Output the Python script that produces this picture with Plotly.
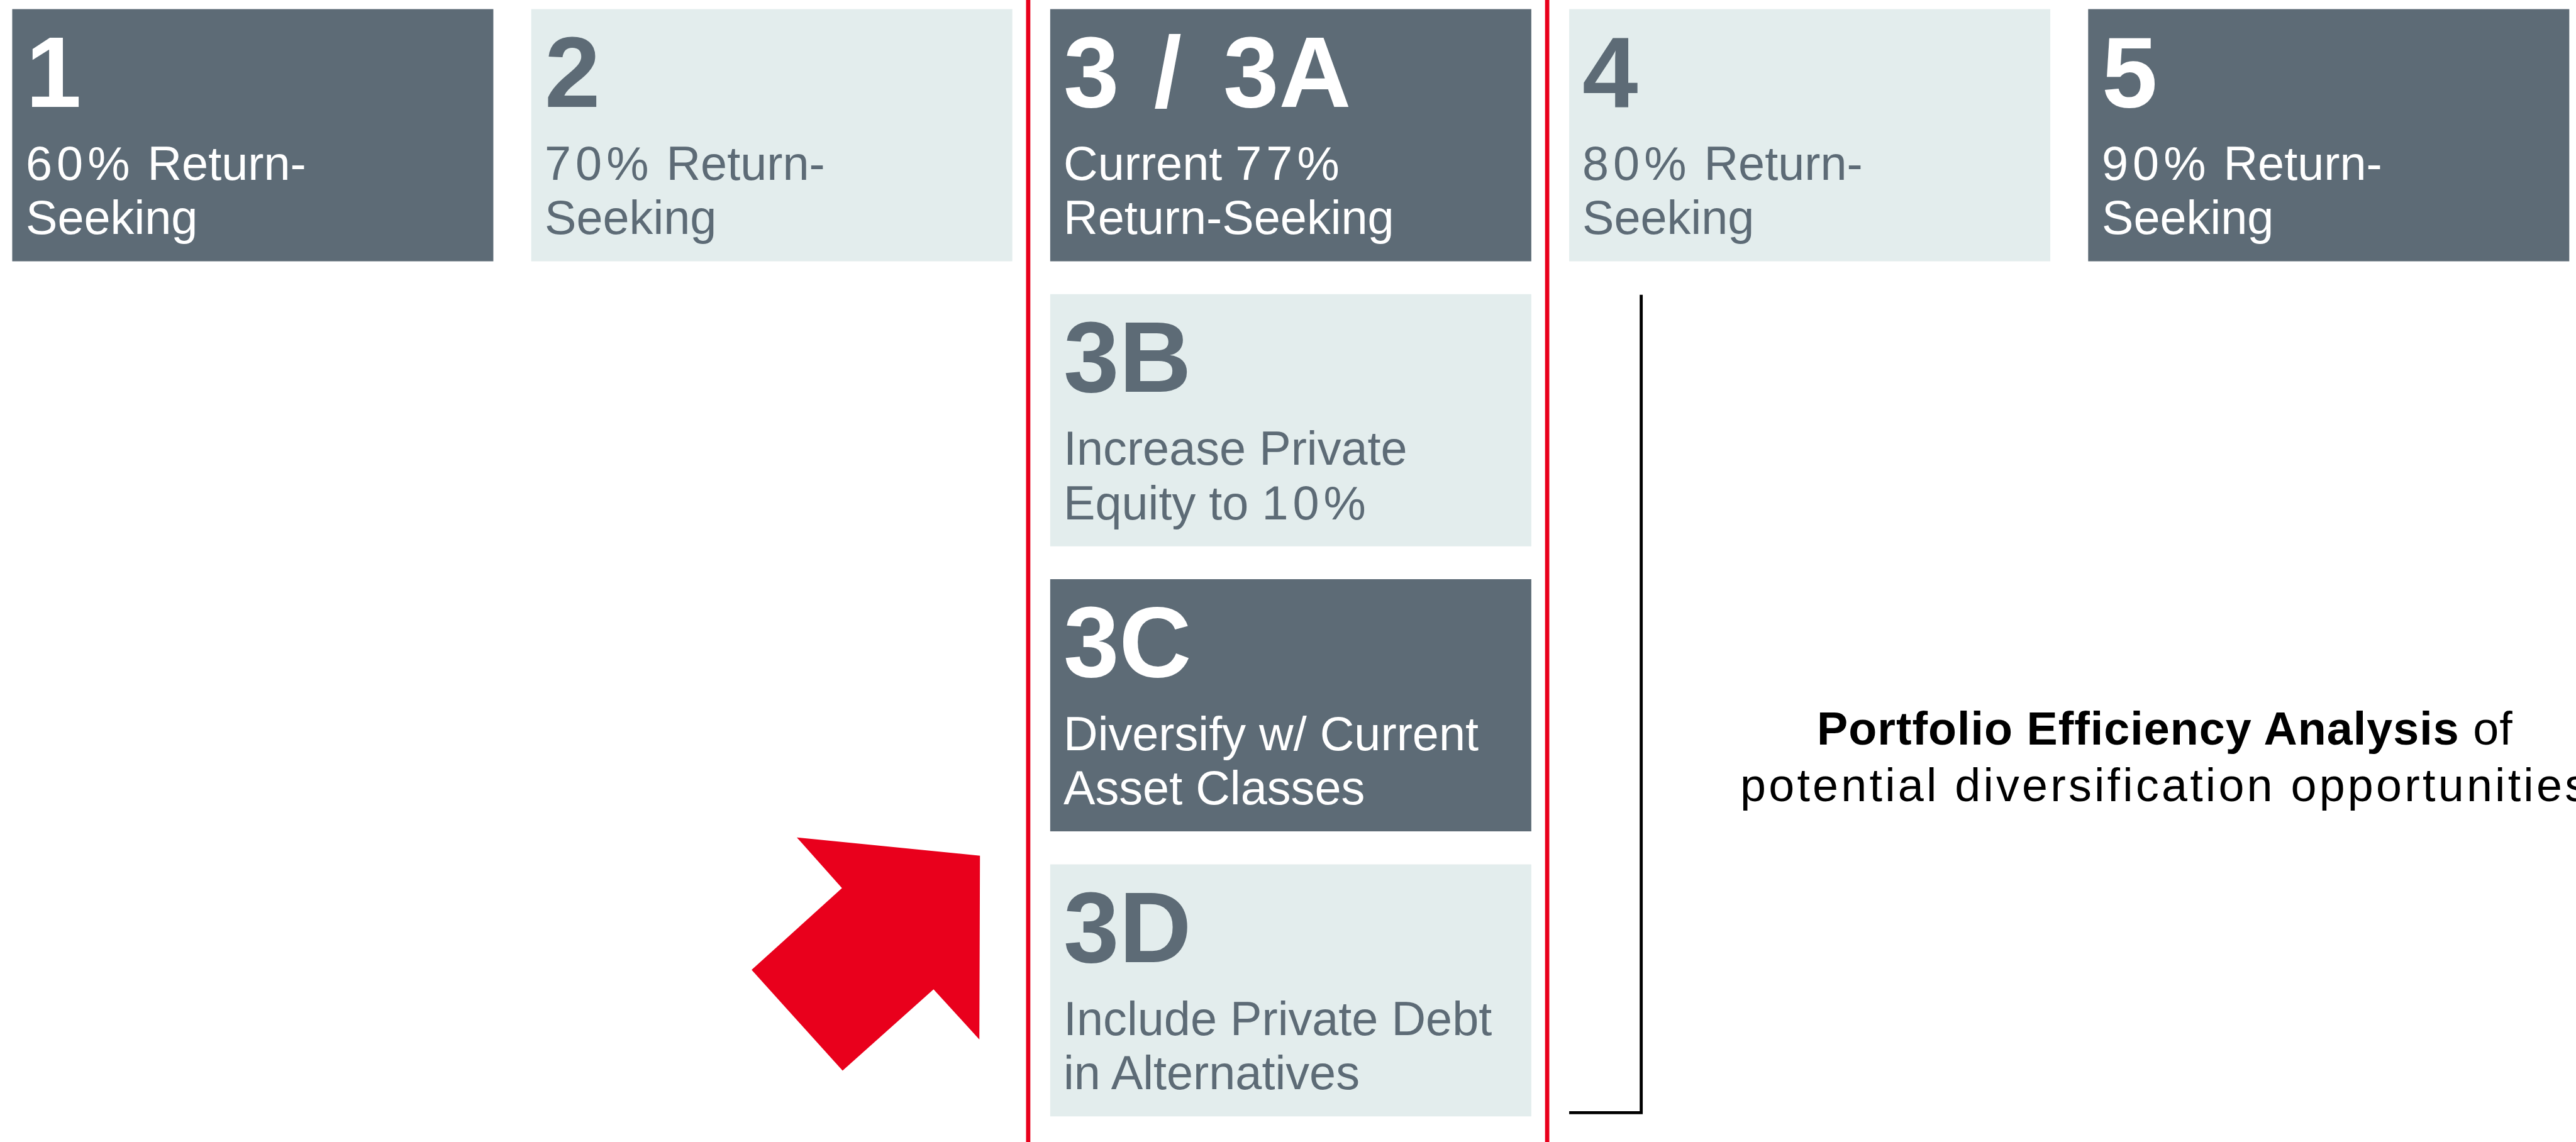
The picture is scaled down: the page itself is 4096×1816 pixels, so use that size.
import re
import plotly.graph_objects as go

# ---------------- data ----------------
top_labels = ["1", "2", "3 / 3A", "4", "5"]
top_text = [
    ["60% Return-", "Seeking"],
    ["70% Return-", "Seeking"],
    ["Current 77%", "Return-Seeking"],
    ["80% Return-", "Seeking"],
    ["90% Return-", "Seeking"],
]
top_dark = [True, False, True, False, True]

sub_labels = ["3B", "3C", "3D"]
sub_text = [
    ["Increase Private", "Equity to 10%"],
    ["Diversify w/ Current", "Asset Classes"],
    ["Include Private Debt", "in Alternatives"],
]
sub_dark = [False, True, False]
sub_column = 2  # column index holding the sub-scenarios

note_bold = "Portfolio Efficiency Analysis"
note_rest = " of"
note_line2 = "potential diversification opportunities"

# ---------------- layout constants (reference pixel space) ----------------
REF_W, REF_H = 4219, 1871
S = 0.97
W, H = 4096, 1816

DARK = "#5d6b76"
LIGHT = "#e3eded"
RED = "#e9001c"
FONT = "Liberation Sans, Arial, Helvetica, sans-serif"

COL_X0, COL_PITCH, BOX_W = 20, 850, 788
ROW_Y0, ROW_PITCH, BOX_H = 15, 467, 413
TXT_DX = 21
BIG_FS, SUB_FS, NOTE_FS = 164, 78, 76
BIG_BASE, L1_BASE, L2_BASE = 160, 280, 369
ASC = 0.3465  # baseline offset from text-box centre, in em

shapes, annos = [], []


def fmt_big(label):
    # slightly looser spacing around the slash, as in the original typesetting
    return "<b>" + label.replace(" / ", '<span style="letter-spacing:11px"> / </span>') + "</b>"


def fmt_sub(line):
    # percentages are set a little looser in the original
    return re.sub(r"(\d+%)", r'<span style="letter-spacing:7px">\1</span>', line)


def add_box(col, row, label, lines, dark):
    x0 = COL_X0 + col * COL_PITCH
    y0 = ROW_Y0 + row * ROW_PITCH
    shapes.append(dict(type="rect", xref="x", yref="y", x0=x0, x1=x0 + BOX_W,
                       y0=y0, y1=y0 + BOX_H, fillcolor=DARK if dark else LIGHT,
                       line=dict(width=0), layer="below"))
    tc = "white" if dark else DARK
    annos.append(dict(x=x0 + TXT_DX, y=y0 + BIG_BASE - ASC * BIG_FS, text=fmt_big(label),
                      xref="x", yref="y", xanchor="left", yanchor="middle", showarrow=False,
                      borderpad=0, font=dict(family=FONT, size=BIG_FS * S, color=tc)))
    for ln, base in zip(lines, [L1_BASE, L2_BASE]):
        annos.append(dict(x=x0 + TXT_DX, y=y0 + base - ASC * SUB_FS, text=fmt_sub(ln),
                          xref="x", yref="y", xanchor="left", yanchor="middle", showarrow=False,
                          borderpad=0, font=dict(family=FONT, size=SUB_FS * S, color=tc)))


for i, (lab, txt, dk) in enumerate(zip(top_labels, top_text, top_dark)):
    add_box(i, 0, lab, txt, dk)
for j, (lab, txt, dk) in enumerate(zip(sub_labels, sub_text, sub_dark)):
    add_box(sub_column, j + 1, lab, txt, dk)

# red separators around the sub-scenario column
for gap_left in [sub_column - 1, sub_column]:
    gx = COL_X0 + gap_left * COL_PITCH + BOX_W + (COL_PITCH - BOX_W) / 2 - 5
    shapes.append(dict(type="line", xref="x", yref="y", x0=gx, x1=gx, y0=0, y1=REF_H,
                       line=dict(color=RED, width=7 * S)))

# bracket
bx0 = COL_X0 + (sub_column + 1) * COL_PITCH
bx1 = bx0 + 118
by0, by1 = 483, 1823
shapes.append(dict(type="path", xref="x", yref="y",
                   path="M %f %f L %f %f L %f %f" % (bx1, by0, bx1, by1, bx0, by1),
                   line=dict(color="black", width=5 * S)))

# red arrow (decorative polygon)
ARROW = [(1305, 1372), (1605, 1402), (1604, 1703), (1529, 1621),
         (1380, 1754), (1231, 1589), (1379, 1455)]
p = "M " + " L ".join("%d %d" % pt for pt in ARROW) + " Z"
shapes.append(dict(type="path", xref="x", yref="y", path=p,
                   fillcolor=RED, line=dict(width=0)))

# note text (the original runs off the right edge; kept as is)
NOTE_X = 3546
annos.append(dict(x=NOTE_X, y=1220 - ASC * NOTE_FS, xref="x", yref="y",
                  text='<span style="letter-spacing:1px"><b>%s</b>%s</span>' % (note_bold, note_rest),
                  xanchor="center", yanchor="middle", showarrow=False, borderpad=0,
                  font=dict(family=FONT, size=NOTE_FS * S, color="black")))
annos.append(dict(x=NOTE_X, y=1313 - ASC * NOTE_FS, xref="x", yref="y",
                  text='<span style="letter-spacing:4.2px">%s</span>' % note_line2,
                  xanchor="center", yanchor="middle", showarrow=False, borderpad=0,
                  font=dict(family=FONT, size=NOTE_FS * S, color="black")))

fig = go.Figure()
fig.update_layout(
    width=W, height=H, margin=dict(l=0, r=0, t=0, b=0),
    paper_bgcolor="white", plot_bgcolor="white",
    xaxis=dict(range=[0, REF_W], visible=False, fixedrange=True),
    yaxis=dict(range=[REF_H, 0], visible=False, fixedrange=True),
    shapes=shapes, annotations=annos, showlegend=False, hovermode=False,
)
fig.write_html("out.html", config={"displayModeBar": False, "staticPlot": True},
               post_script="document.body.style.margin='0px';")
